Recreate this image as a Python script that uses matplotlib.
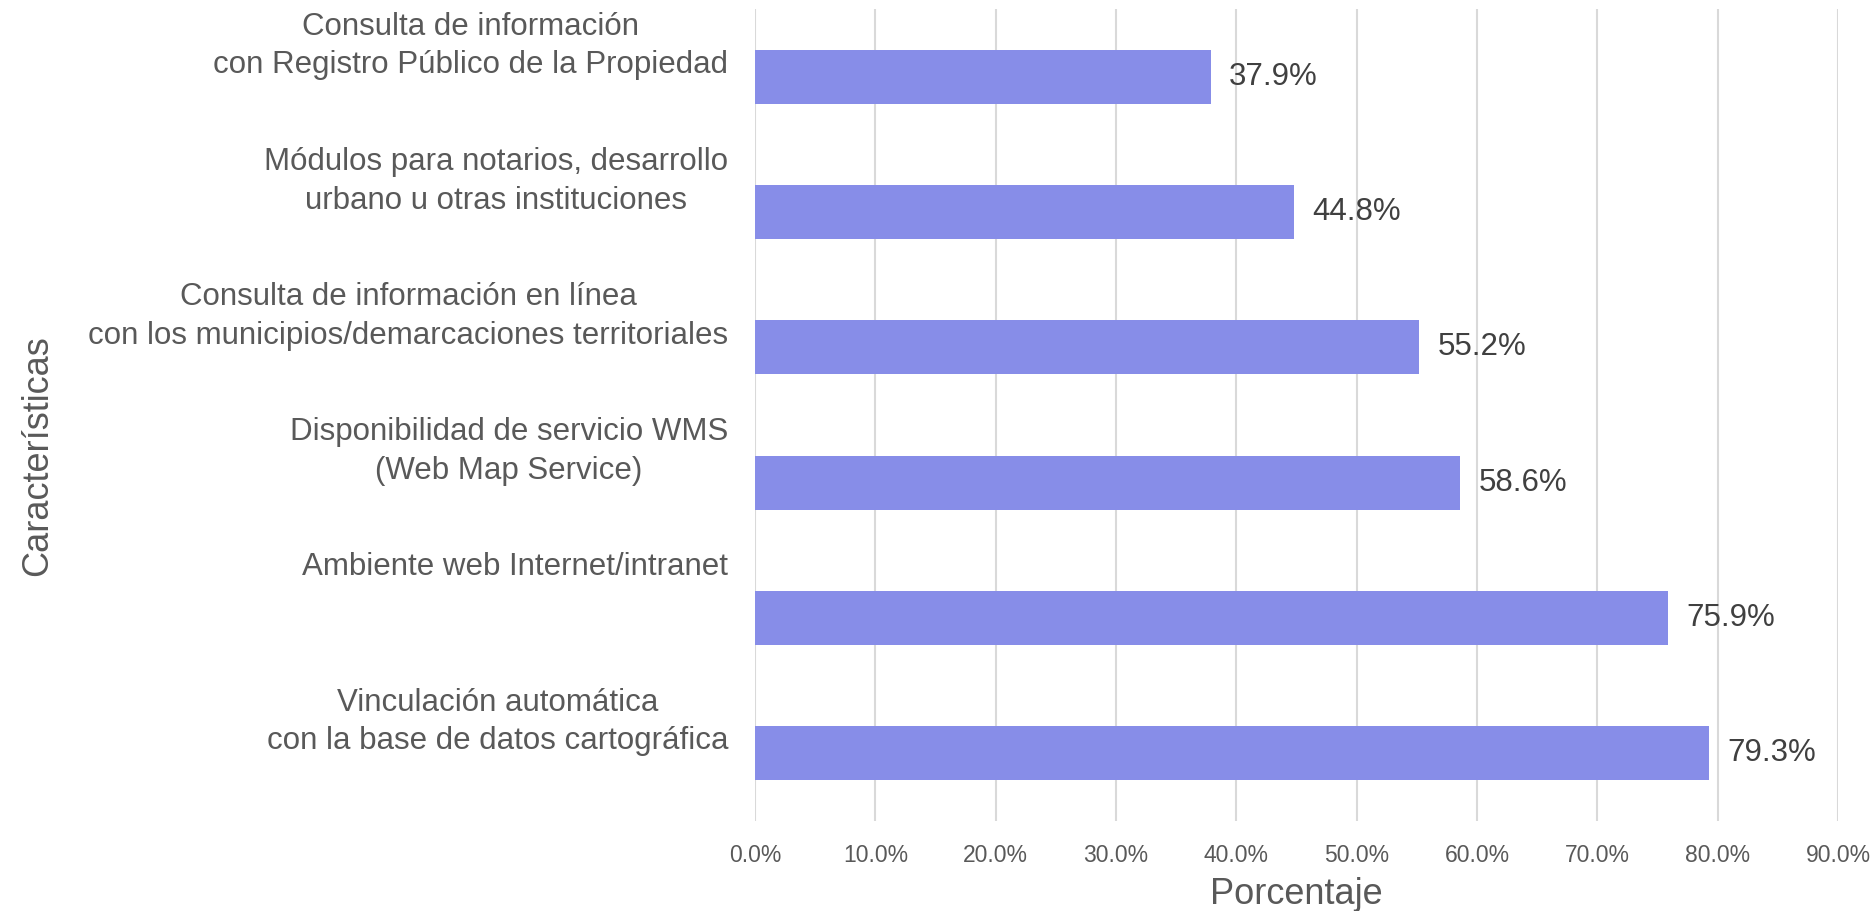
import matplotlib.pyplot as plt
from matplotlib.ticker import FuncFormatter
from matplotlib.transforms import ScaledTranslation

plt.rcParams['font.family'] = ['Liberation Sans', 'DejaVu Sans']

categorias = [
    "Consulta de información\ncon Registro Público de la Propiedad",
    "Módulos para notarios, desarrollo\nurbano u otras instituciones",
    "Consulta de información en línea\ncon los municipios/demarcaciones territoriales",
    "Disponibilidad de servicio WMS\n(Web Map Service)",
    "Ambiente web Internet/intranet\n ",
    "Vinculación automática\ncon la base de datos cartográfica",
]
porcentajes = [37.9, 44.8, 55.2, 58.6, 75.9, 79.3]
xticks = [0, 10, 20, 30, 40, 50, 60, 70, 80, 90]

gris = "#595959"

fig = plt.figure(figsize=(18.75, 9.11), dpi=100)
ax = fig.add_axes([0.4027, 0.0993, 0.5776, 0.8903])

pos = list(range(len(categorias)))
barras = ax.barh(pos, porcentajes, height=0.4, color="#878de8", zorder=3)
ax.bar_label(barras, labels=[f"{v:.1f}%" for v in porcentajes], padding=13,
             fontsize=22.5, color="#404040")

ax.set_xlim(0, 90)
ax.set_ylim(5.5, -0.5)
ax.set_xticks(xticks)
ax.xaxis.set_major_formatter(FuncFormatter(lambda v, p: f"{v:.1f}%"))
ax.tick_params(axis="x", length=0, pad=17, labelsize=16.5, labelcolor=gris)
ax.set_yticks([])
ax.grid(axis="x", color="#d9d9d9", linewidth=1.5, zorder=0)
for s in ax.spines.values():
    s.set_visible(False)

# etiquetas de categorias desplazadas hacia arriba
trans = ax.get_yaxis_transform() + ScaledTranslation(-0.27, 0.31, fig.dpi_scale_trans)
for i, c in enumerate(categorias):
    ax.text(0, i, c, transform=trans, ha="right", va="center",
            multialignment="center", fontsize=22.5, color=gris, linespacing=1.38)

fig.text(0.6915, 1 - 894 / 911, "Porcentaje", ha="center", va="center",
         fontsize=26, color=gris)
fig.text(38 / 1875, 0.5, "Características", ha="center", va="center",
         rotation=90, fontsize=26, color=gris)

fig.savefig("out.png", dpi=100)
